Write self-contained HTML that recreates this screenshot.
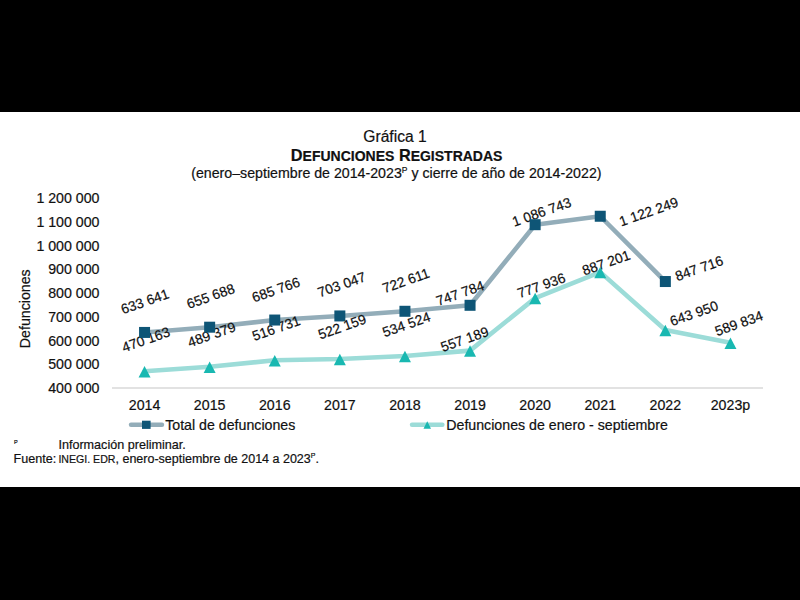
<!DOCTYPE html>
<html><head><meta charset="utf-8"><style>
html,body{margin:0;padding:0;background:#fff;width:800px;height:600px;overflow:hidden}
svg{display:block}
text{font-family:"Liberation Sans", sans-serif;fill:#111;stroke:#111;stroke-width:0.2px}
</style></head><body>
<svg width="800" height="600" viewBox="0 0 800 600">
<rect x="0" y="0" width="800" height="112" fill="#000"/>
<rect x="0" y="487" width="800" height="113" fill="#000"/>
<line x1="112" y1="388" x2="763" y2="388" stroke="#d9d9d9" stroke-width="1.5"/>
<text x="99.5" y="393.20" text-anchor="end" font-size="14.2">400 000</text>
<text x="99.5" y="369.42" text-anchor="end" font-size="14.2">500 000</text>
<text x="99.5" y="345.64" text-anchor="end" font-size="14.2">600 000</text>
<text x="99.5" y="321.86" text-anchor="end" font-size="14.2">700 000</text>
<text x="99.5" y="298.08" text-anchor="end" font-size="14.2">800 000</text>
<text x="99.5" y="274.30" text-anchor="end" font-size="14.2">900 000</text>
<text x="99.5" y="250.52" text-anchor="end" font-size="14.2">1 000 000</text>
<text x="99.5" y="226.74" text-anchor="end" font-size="14.2">1 100 000</text>
<text x="99.5" y="202.96" text-anchor="end" font-size="14.2">1 200 000</text>
<text x="144.55" y="409.8" text-anchor="middle" font-size="14.2">2014</text>
<text x="209.65" y="409.8" text-anchor="middle" font-size="14.2">2015</text>
<text x="274.75" y="409.8" text-anchor="middle" font-size="14.2">2016</text>
<text x="339.85" y="409.8" text-anchor="middle" font-size="14.2">2017</text>
<text x="404.95" y="409.8" text-anchor="middle" font-size="14.2">2018</text>
<text x="470.05" y="409.8" text-anchor="middle" font-size="14.2">2019</text>
<text x="535.15" y="409.8" text-anchor="middle" font-size="14.2">2020</text>
<text x="600.25" y="409.8" text-anchor="middle" font-size="14.2">2021</text>
<text x="665.35" y="409.8" text-anchor="middle" font-size="14.2">2022</text>
<text x="730.45" y="409.8" text-anchor="middle" font-size="14.2">2023p</text>
<text transform="translate(29.5,308.75) rotate(-90)" text-anchor="middle" font-size="14.2">Defunciones</text>
<polyline points="144.55,332.44 209.65,327.20 274.75,320.04 339.85,315.94 404.95,311.28 470.05,305.30 535.15,224.69 600.25,216.25 665.35,281.53" fill="none" stroke="#93adb9" stroke-width="4.6" stroke-linejoin="round"/>
<polyline points="144.55,371.32 209.65,366.75 274.75,360.24 339.85,358.95 404.95,356.01 470.05,350.62 535.15,298.13 600.25,272.14 665.35,329.99 730.45,342.86" fill="none" stroke="#9cdcd8" stroke-width="4.6" stroke-linejoin="round"/>
<text transform="translate(123.07,314.32) rotate(-19.5)" font-size="13.8">633 641</text>
<text transform="translate(188.70,309.00) rotate(-19.5)" font-size="13.8">655 688</text>
<text transform="translate(253.93,302.55) rotate(-19.5)" font-size="13.8">685 766</text>
<text transform="translate(319.82,297.40) rotate(-19.5)" font-size="13.8">703 047</text>
<text transform="translate(384.50,293.20) rotate(-19.5)" font-size="13.8">722 611</text>
<text transform="translate(438.20,306.00) rotate(-19.5)" font-size="13.8">747 784</text>
<text transform="translate(514.30,226.75) rotate(-19.5)" font-size="13.8">1 086 743</text>
<text transform="translate(621.35,226.45) rotate(-19.5)" font-size="13.8">1 122 249</text>
<text transform="translate(677.15,281.15) rotate(-19.5)" font-size="13.8">847 716</text>
<text transform="translate(124.00,352.43) rotate(-19.5)" font-size="13.8">470 163</text>
<text transform="translate(189.70,347.43) rotate(-19.5)" font-size="13.8">489 379</text>
<text transform="translate(254.25,341.10) rotate(-19.5)" font-size="13.8">516 731</text>
<text transform="translate(320.20,339.55) rotate(-19.5)" font-size="13.8">522 159</text>
<text transform="translate(384.50,337.35) rotate(-19.5)" font-size="13.8">534 524</text>
<text transform="translate(442.65,352.05) rotate(-19.5)" font-size="13.8">557 189</text>
<text transform="translate(519.48,298.25) rotate(-19.5)" font-size="13.8">777 936</text>
<text transform="translate(584.25,275.50) rotate(-19.5)" font-size="13.8">887 201</text>
<text transform="translate(672.12,326.18) rotate(-19.5)" font-size="13.8">643 950</text>
<text transform="translate(717.00,336.18) rotate(-19.5)" font-size="13.8">589 834</text>
<rect x="139.05" y="326.94" width="11" height="11" fill="#0e5576"/>
<rect x="204.15" y="321.70" width="11" height="11" fill="#0e5576"/>
<rect x="269.25" y="314.54" width="11" height="11" fill="#0e5576"/>
<rect x="334.35" y="310.44" width="11" height="11" fill="#0e5576"/>
<rect x="399.45" y="305.78" width="11" height="11" fill="#0e5576"/>
<rect x="464.55" y="299.80" width="11" height="11" fill="#0e5576"/>
<rect x="529.65" y="219.19" width="11" height="11" fill="#0e5576"/>
<rect x="594.75" y="210.75" width="11" height="11" fill="#0e5576"/>
<rect x="659.85" y="276.03" width="11" height="11" fill="#0e5576"/>
<polygon points="138.55,377.52 150.55,377.52 144.55,366.02" fill="#19b8b1"/>
<polygon points="203.65,372.95 215.65,372.95 209.65,361.45" fill="#19b8b1"/>
<polygon points="268.75,366.44 280.75,366.44 274.75,354.94" fill="#19b8b1"/>
<polygon points="333.85,365.15 345.85,365.15 339.85,353.65" fill="#19b8b1"/>
<polygon points="398.95,362.21 410.95,362.21 404.95,350.71" fill="#19b8b1"/>
<polygon points="464.05,356.82 476.05,356.82 470.05,345.32" fill="#19b8b1"/>
<polygon points="529.15,304.33 541.15,304.33 535.15,292.83" fill="#19b8b1"/>
<polygon points="594.25,278.34 606.25,278.34 600.25,266.84" fill="#19b8b1"/>
<polygon points="659.35,336.19 671.35,336.19 665.35,324.69" fill="#19b8b1"/>
<polygon points="724.45,349.06 736.45,349.06 730.45,337.56" fill="#19b8b1"/>
<line x1="131" y1="424.7" x2="162" y2="424.7" stroke="#93adb9" stroke-width="4.4" stroke-linecap="round"/>
<rect x="142" y="420.7" width="8.6" height="8.2" fill="#0e5576"/>
<text x="165.2" y="430" font-size="14.2">Total de defunciones</text>
<line x1="412" y1="424.7" x2="442.4" y2="424.7" stroke="#9cdcd8" stroke-width="4.4" stroke-linecap="round"/>
<polygon points="423.5,428.75 431,428.75 427.25,421.25" fill="#19b8b1"/>
<text x="446.25" y="430" font-size="14.2">Defunciones de enero - septiembre</text>
<text x="395" y="141.8" text-anchor="middle" font-size="15.6">Gráfica 1</text>
<text x="290.8" y="161.2" font-size="16.3" font-weight="bold">D<tspan font-size="14">EFUNCIONES</tspan> R<tspan font-size="14">EGISTRADAS</tspan></text>
<text x="191.2" y="178.3" font-size="14.2">(enero–septiembre de 2014-2023<tspan font-size="8.5" dy="-5.5">P</tspan><tspan dy="5.5"> y cierre de año de 2014-2022)</tspan></text>
<text x="13.9" y="444.2" font-size="5.5">P</text>
<text x="58.4" y="448.8" font-size="12.6">Información preliminar.</text>
<text x="13.6" y="462.7" font-size="12.6">Fuente:</text>
<text x="58.4" y="462.7" font-size="12.5"><tspan font-size="10.6">INEGI. EDR</tspan>, enero-septiembre de 2014 a 2023<tspan font-size="7" dy="-5">P</tspan><tspan dy="5">.</tspan></text>
</svg>
</body></html>
